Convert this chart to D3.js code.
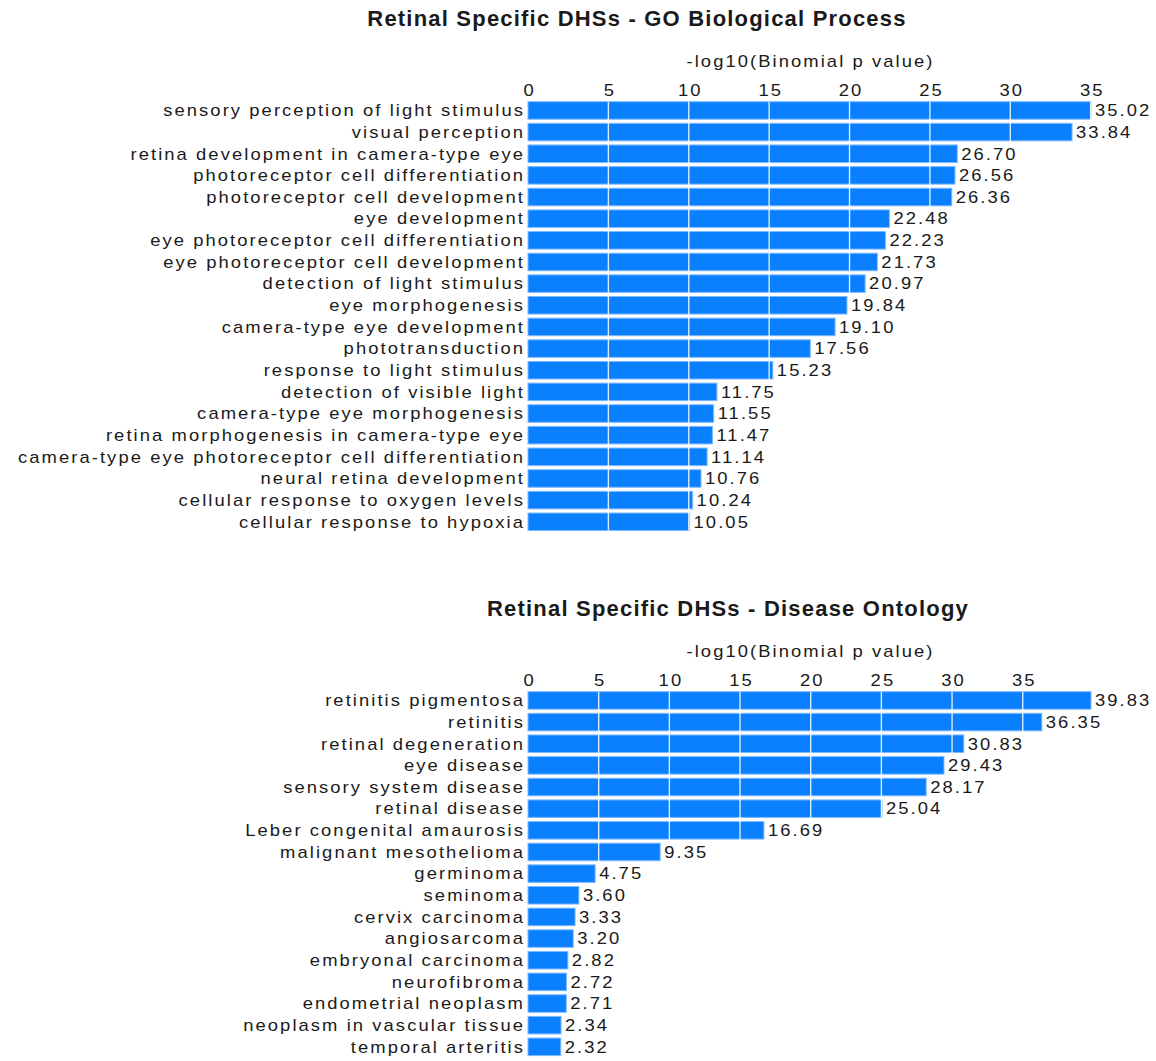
<!DOCTYPE html>
<html>
<head>
<meta charset="utf-8">
<script src="https://cdn.jsdelivr.net/npm/d3@7"></script>
<style>
  html, body { margin: 0; padding: 0; background: #fff; }
  svg text { font-family: "Liberation Sans", Arial, Helvetica, sans-serif; fill: #1a1a1a; }
</style>
</head>
<body>
<svg id="chart" width="1156" height="1061"></svg>
<script>
// GO Biological Process enrichment
const goTerms = [
  "sensory perception of light stimulus",
  "visual perception",
  "retina development in camera-type eye",
  "photoreceptor cell differentiation",
  "photoreceptor cell development",
  "eye development",
  "eye photoreceptor cell differentiation",
  "eye photoreceptor cell development",
  "detection of light stimulus",
  "eye morphogenesis",
  "camera-type eye development",
  "phototransduction",
  "response to light stimulus",
  "detection of visible light",
  "camera-type eye morphogenesis",
  "retina morphogenesis in camera-type eye",
  "camera-type eye photoreceptor cell differentiation",
  "neural retina development",
  "cellular response to oxygen levels",
  "cellular response to hypoxia"
];
const goValues = [35.02, 33.84, 26.70, 26.56, 26.36, 22.48, 22.23, 21.73, 20.97, 19.84,
                  19.10, 17.56, 15.23, 11.75, 11.55, 11.47, 11.14, 10.76, 10.24, 10.05];
const goTicks = [0, 5, 10, 15, 20, 25, 30, 35];

// Disease Ontology enrichment
const doTerms = [
  "retinitis pigmentosa",
  "retinitis",
  "retinal degeneration",
  "eye disease",
  "sensory system disease",
  "retinal disease",
  "Leber congenital amaurosis",
  "malignant mesothelioma",
  "germinoma",
  "seminoma",
  "cervix carcinoma",
  "angiosarcoma",
  "embryonal carcinoma",
  "neurofibroma",
  "endometrial neoplasm",
  "neoplasm in vascular tissue",
  "temporal arteritis"
];
const doValues = [39.83, 36.35, 30.83, 29.43, 28.17, 25.04, 16.69, 9.35, 4.75, 3.60,
                  3.33, 3.20, 2.82, 2.72, 2.71, 2.34, 2.32];
const doTicks = [0, 5, 10, 15, 20, 25, 30, 35];

const svg = d3.select("#chart");

// body text: slightly widened glyphs with light tracking
const FS = "16px";
const LS = "1.8px";
const SX = 1.15;
const barFill = "#0a80ff";
const barEdge = "#7db9ff";
const rowStep = 21.65;

function bodyText(sel) {
  return sel.style("font-size", FS).style("letter-spacing", LS);
}

function panel(opts) {
  const { terms, values, ticks, title, titleX, top } = opts;
  const g = svg.append("g").attr("transform", `translate(0,${top})`);

  const x = d3.scaleLinear().domain([0, d3.max(values)]).range([528, 1091]);
  const y = d3.scaleBand()
    .domain(terms)
    .range([99.6, 99.6 + terms.length * rowStep])
    .paddingInner(0.19)
    .paddingOuter(0.095);

  // title
  g.append("text")
    .attr("x", titleX).attr("y", 26)
    .attr("text-anchor", "middle")
    .style("font-size", "22px").style("font-weight", "bold")
    .style("letter-spacing", "1.2px")
    .text(title);

  // axis title
  const [r0, r1] = x.range();
  bodyText(g.append("text")
    .attr("transform", `translate(${(r0 + r1) / 2 + 1},67) scale(${SX},1)`)
    .attr("text-anchor", "middle"))
    .text("-log10(Binomial p value)");

  // tick labels (top axis, no domain line)
  const axis = d3.axisTop(x).tickValues(ticks).tickSize(0).tickPadding(0).tickFormat(d3.format("d"));
  const ag = g.append("g").attr("transform", "translate(0,96)").call(axis);
  ag.select(".domain").remove();
  bodyText(ag.selectAll("text")
    .attr("dy", 0).attr("x", 0.9)
    .attr("transform", `scale(${SX},1)`)
    .style("font-family", "'Liberation Sans', Arial, sans-serif")
    .attr("fill", "#1a1a1a"));

  // bars
  const rows = terms.map((t, i) => ({ t, v: values[i] }));
  g.selectAll("rect.bar")
    .data(rows)
    .join("rect")
    .attr("class", "bar")
    .attr("x", x(0))
    .attr("y", d => y(d.t))
    .attr("width", d => x(d.v) - x(0))
    .attr("height", y.bandwidth())
    .attr("fill", barFill)
    .attr("stroke", barEdge)
    .attr("stroke-width", 1);

  // white grid lines over the bars
  const y0 = y(terms[0]);
  const y1 = y(terms[terms.length - 1]) + y.bandwidth();
  g.selectAll("line.grid")
    .data(ticks.filter(t => t > 0))
    .join("line")
    .attr("class", "grid")
    .attr("x1", d => x(d)).attr("x2", d => x(d))
    .attr("y1", y0).attr("y2", y1)
    .attr("stroke", "#ffffff").attr("stroke-opacity", 0.85)
    .attr("stroke-width", 1.4);

  const baseY = t => y(t) + y.bandwidth() / 2 + 5.8;

  // category labels
  bodyText(g.selectAll("text.cat")
    .data(terms)
    .join("text")
    .attr("class", "cat")
    .attr("transform", d => `translate(${x(0) - 3},${baseY(d)}) scale(${SX},1)`)
    .attr("text-anchor", "end"))
    .text(d => d);

  // value labels
  bodyText(g.selectAll("text.val")
    .data(rows)
    .join("text")
    .attr("class", "val")
    .attr("transform", d => `translate(${x(d.v) + 4},${baseY(d.t)}) scale(${SX},1)`))
    .text(d => d.v.toFixed(2));
}

panel({
  terms: goTerms, values: goValues, ticks: goTicks,
  title: "Retinal Specific DHSs - GO Biological Process", titleX: 637, top: 0
});
panel({
  terms: doTerms, values: doValues, ticks: doTicks,
  title: "Retinal Specific DHSs - Disease Ontology", titleX: 728, top: 590
});
</script>
</body>
</html>
